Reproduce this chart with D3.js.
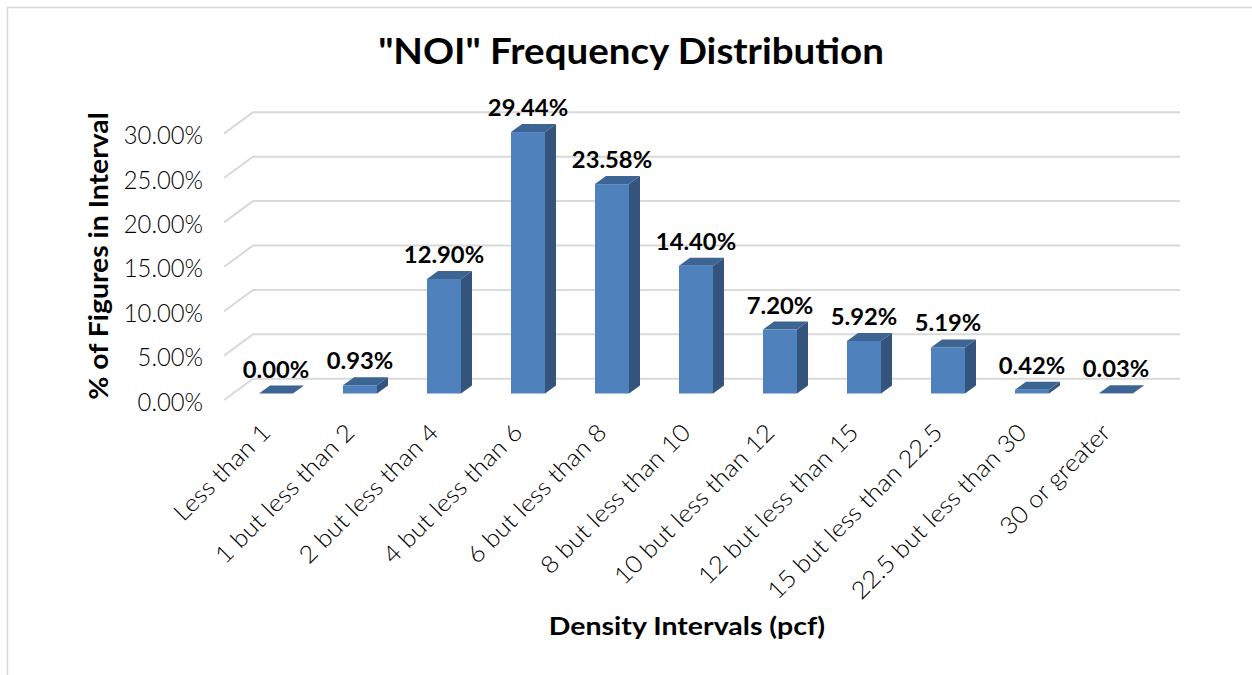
<!DOCTYPE html>
<html>
<head>
<meta charset="utf-8">
<script src="https://cdnjs.cloudflare.com/ajax/libs/d3/7.8.5/d3.min.js"></script>
<style>
  html, body { margin: 0; padding: 0; background: #fff; }
  svg { display: block; }
  text { font-family: Lato, "Open Sans", sans-serif; fill: #000; }
  .tick-label { font-size: 25px; font-weight: 300; }
  .cat-label { font-size: 24px; font-weight: 300; }
  .bold { font-weight: 700; }
</style>
</head>
<body>
<svg id="chart" width="1252" height="675"></svg>
<script>
var categories = ['Less than 1', '1 but less than 2', '2 but less than 4', '4 but less than 6',
  '6 but less than 8', '8 but less than 10', '10 but less than 12', '12 but less than 15',
  '15 but less than 22.5', '22.5 but less than 30', '30 or greater'];
var percents = [0.00, 0.93, 12.90, 29.44, 23.58, 14.40, 7.20, 5.92, 5.19, 0.42, 0.03];
var yTicks = [0, 5, 10, 15, 20, 25, 30];

var svg = d3.select('#chart');
var pct = d3.format('.2f');

// the installed fonts run narrower than the original, so widen the glyphs a bit
function stretch(sel, k) {
  sel.each(function() {
    d3.select(this)
      .attr('textLength', this.getComputedTextLength() * k)
      .attr('lengthAdjust', 'spacingAndGlyphs');
  });
}

// frame, only top and left show in the picture
svg.append('path')
  .attr('d', 'M7.5,675V7.5H1252')
  .attr('fill', 'none')
  .attr('stroke', '#d9d9d9')
  .attr('stroke-width', 1.5);

var x = d3.scaleBand().domain(categories).range([259, 1133]).paddingInner(50 / 84).paddingOuter(0).align(0);
var y = d3.scaleLinear().domain([0, 30]).range([393.5, 127.1]);
var wallFront = d3.scaleLinear().domain([0, 30]).range([400, 133.6]);
var wallBack = d3.scaleLinear().domain([0, 30]).range([378.7, 112.3]);

var depthX = 11, depthY = 8;  // how far the bars reach back
var wallLeft = 224, wallMid = 253, wallRight = 1180;

// gridlines with the slanted bit on the side wall
svg.append('g').selectAll('path')
  .data(yTicks)
  .enter().append('path')
    .attr('fill', 'none')
    .attr('stroke', '#d9d9d9')
    .attr('stroke-width', 2)
    .attr('d', function(d) {
      return 'M' + wallLeft + ',' + wallFront(d) + 'L' + wallMid + ',' + wallBack(d) + 'H' + wallRight;
    });

// y tick labels
var yAxis = d3.axisLeft(wallFront)
  .tickValues(yTicks)
  .tickSize(0)
  .tickPadding(0)
  .tickFormat(function(d) { return pct(d) + '%'; });
var yG = svg.append('g').attr('transform', 'translate(203,2)').call(yAxis);
yG.select('.domain').remove();
yG.selectAll('text').attr('class', 'tick-label').attr('font-family', null).attr('font-size', null);
yG.selectAll('text').call(stretch, 0.95);

// bars
var bar = svg.append('g').selectAll('g')
  .data(percents)
  .enter().append('g');

bar.append('path')  // side
  .attr('fill', '#34547d')
  .attr('d', function(d, i) {
    var r = x(categories[i]) + x.bandwidth();
    return 'M' + r + ',' + y(0) + 'L' + (r + depthX) + ',' + (y(0) - depthY)
      + 'V' + (y(d) - depthY) + 'L' + r + ',' + y(d) + 'Z';
  });
bar.append('path')  // top
  .attr('fill', '#3c6594')
  .attr('d', function(d, i) {
    var l = x(categories[i]), r = l + x.bandwidth();
    return 'M' + l + ',' + y(d) + 'L' + (l + depthX) + ',' + (y(d) - depthY)
      + 'H' + (r + depthX) + 'L' + r + ',' + y(d) + 'Z';
  });
bar.append('rect')  // front
  .attr('fill', '#4f81bd')
  .attr('x', function(d, i) { return x(categories[i]); })
  .attr('y', function(d) { return y(d); })
  .attr('width', x.bandwidth())
  .attr('height', function(d) { return y(0) - y(d); });

// value labels
bar.append('text')
  .attr('class', 'bold')
  .attr('text-anchor', 'middle')
  .attr('font-size', 22)
  .attr('x', function(d, i) { return x(categories[i]) + x.bandwidth() / 2; })
  .attr('y', function(d) { return y(d) - 16; })
  .text(function(d) { return pct(d) + '%'; })
  .call(stretch, 1.08);

// category labels
svg.append('g').selectAll('text')
  .data(categories)
  .enter().append('text')
    .attr('class', 'cat-label')
    .attr('text-anchor', 'end')
    .attr('transform', function(d) {
      return 'translate(' + (x(d) + x.bandwidth() / 2 - 4) + ',434) rotate(-45)';
    })
    .text(function(d) { return d; })
    .call(stretch, 1.07);

// titles
svg.append('text').attr('class', 'bold')
  .attr('text-anchor', 'middle').attr('font-size', 37)
  .attr('x', 631).attr('y', 64)
  .text('"NOI" Frequency Distribution')
  .call(stretch, 1.04);

svg.append('text').attr('class', 'bold')
  .attr('text-anchor', 'middle').attr('font-size', 25)
  .attr('x', 687).attr('y', 635)
  .text('Density Intervals (pcf)')
  .call(stretch, 1.14);

svg.append('text').attr('class', 'bold')
  .attr('text-anchor', 'middle').attr('font-size', 26)
  .attr('transform', 'translate(108,256) rotate(-90)')
  .text('% of Figures in Interval')
  .call(stretch, 1.09);
</script>
</body>
</html>
